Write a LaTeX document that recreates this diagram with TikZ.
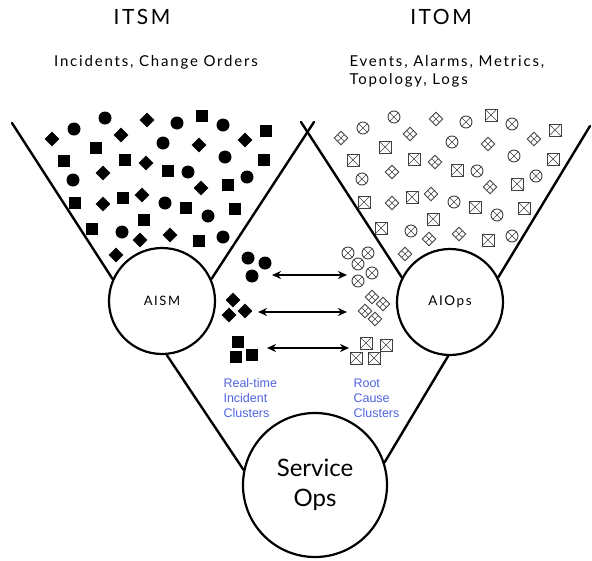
\documentclass[tikz,border=0pt]{standalone}
\usepackage{fontspec}
\setmainfont{Lato}
\newfontfamily\handfont[LetterSpace=12]{Lato}
\newfontfamily\labelfont{Liberation Sans}
\usetikzlibrary{arrows.meta,shapes.geometric}
\definecolor{clusterblue}{RGB}{80,100,225}

% scatter positions (left funnel, right one is shifted)
\newcommand{\dotlist}{74/129,105/118,177/123,223/125,163/143,225/157,73/180,188/172,247/177,165/203,208/216,122/232,223/237}
\newcommand{\gemlist}{52/139,121/135,147/120,199/145,245/140,146/163,103/173,201/188,142/195,103/204,140/240,170/235,116/255}
\newcommand{\boxlist}{202/116,266/131,96/148,64/161,125/160,168/171,264/160,228/185,75/203,123/198,186/208,235/209,144/220,92/229,199/241}

\begin{document}
\begin{tikzpicture}[x=1pt,y=-1pt,
    hub/.style={circle,draw,line width=2.2pt,inner sep=0pt},
    funnel/.style={line width=2.4pt,line cap=round},
    dot/.style={circle,fill,inner sep=0pt,minimum size=13pt},
    gem/.style={diamond,fill,inner sep=0pt,minimum size=15pt},
    box/.style={rectangle,fill,inner sep=0pt,minimum size=12pt},
    crossed/.style={path picture={\draw[line width=0.6pt]
        (path picture bounding box.north west) -- (path picture bounding box.south east)
        (path picture bounding box.north east) -- (path picture bounding box.south west);}},
    xdot/.style={circle,draw=black!75,line width=0.9pt,inner sep=0pt,minimum size=12pt,crossed},
    xgem/.style={diamond,draw=black!75,line width=0.9pt,inner sep=0pt,minimum size=14pt,crossed},
    xbox/.style={rectangle,draw=black!75,line width=0.9pt,inner sep=0pt,minimum size=12pt,crossed},
    link/.style={{Stealth[length=9pt,width=8pt]}-{Stealth[length=9pt,width=8pt]},line width=1.6pt},
    title/.style={font=\handfont\fontsize{21}{24}\selectfont},
    subtitle/.style={font=\handfont\fontsize{15}{18}\selectfont},
    cluster text/.style={anchor=west,align=left,text=clusterblue,
        font=\labelfont\fontsize{12.5}{15}\selectfont}]
  \useasboundingbox (0,0) rectangle (592,560);

  %titles%
  \node[title] (itsm) at (142,17) {ITSM};
  \node[subtitle] (itsm-sub) at (156,62) {Incidents, Change Orders};
  \node[title] (itom) at (441,17) {ITOM};
  \node[subtitle,anchor=west,align=left] (itom-sub) at (346,71)
    {Events, Alarms, Metrics,\\Topology, Logs};

  %hubs%
  \node[hub,minimum size=106pt,font=\handfont\fontsize{13}{15}\selectfont] (aism) at (162,301) {AISM};
  \node[hub,minimum size=106pt,font=\handfont\fontsize{13.5}{15}\selectfont] (aiops) at (450,302) {AIOps};
  \node[hub,minimum size=144pt,align=center,font=\fontsize{24}{30}\selectfont] (sops) at (315,485)
    {Service\\Ops};

  %funnel ends%
  \coordinate (itsm-l) at (12,123);
  \coordinate (itsm-r) at (314,122);
  \coordinate (itom-l) at (301,122);
  \coordinate (itom-r) at (590,126);

  \draw[funnel] (itsm-l) -- (aism.156);
  \draw[funnel] (itsm-r) -- (aism.24);
  \draw[funnel] (itom-l) -- (aiops.153);
  \draw[funnel] (itom-r) -- (aiops.27);
  \draw[funnel] (aism.275) -- (sops.168);
  \draw[funnel] (aiops.268) -- (sops.18);

  %scatter%
  \foreach \x/\y [count=\i] in \dotlist {
    \node[dot] (itsm-dot-\i) at (\x,\y) {};
    \node[xdot] (itom-dot-\i) at (\x+289,\y-1) {};
  }
  \foreach \x/\y [count=\i] in \gemlist {
    \node[gem] (itsm-gem-\i) at (\x,\y) {};
    \node[xgem] (itom-gem-\i) at (\x+289,\y-1) {};
  }
  \foreach \x/\y [count=\i] in \boxlist {
    \node[box] (itsm-box-\i) at (\x,\y) {};
    \node[xbox] (itom-box-\i) at (\x+289,\y-1) {};
  }

  %clusters%
  \node[dot] (rt-dot-1) at (248,258) {};
  \node[dot] (rt-dot-2) at (265,263) {};
  \node[dot] (rt-dot-3) at (252,276) {};
  \node[gem] (rt-gem-1) at (233,300) {};
  \node[gem] (rt-gem-2) at (229,315) {};
  \node[gem] (rt-gem-3) at (245,311) {};
  \node[box] (rt-box-1) at (238,342) {};
  \node[box] (rt-box-2) at (236,357) {};
  \node[box] (rt-box-3) at (252,355) {};

  \node[xdot] (rc-dot-1) at (348,253) {};
  \node[xdot] (rc-dot-2) at (368,253) {};
  \node[xdot] (rc-dot-3) at (358,264) {};
  \node[xdot] (rc-dot-4) at (372,273) {};
  \node[xdot] (rc-dot-5) at (358,281) {};
  \node[xgem] (rc-gem-1) at (372,297) {};
  \node[xgem] (rc-gem-2) at (383,304) {};
  \node[xgem] (rc-gem-3) at (365,311) {};
  \node[xgem] (rc-gem-4) at (375,319) {};
  \node[xbox] (rc-box-1) at (366,343) {};
  \node[xbox] (rc-box-2) at (386,345) {};
  \node[xbox] (rc-box-3) at (356,358) {};
  \node[xbox] (rc-box-4) at (374,358) {};

  \coordinate (dot-l) at (272,275);
  \coordinate (dot-r) at (347,275);
  \coordinate (gem-l) at (258,312);
  \coordinate (gem-r) at (347,312);
  \coordinate (box-l) at (267,348);
  \coordinate (box-r) at (349,348);
  \draw[link] (dot-l) -- (dot-r);
  \draw[link] (gem-l) -- (gem-r);
  \draw[link] (box-l) -- (box-r);

  \node[cluster text] (rt-label) at (220,398) {Real-time\\Incident\\Clusters};
  \node[cluster text] (rc-label) at (350,398) {Root\\Cause\\Clusters};
\end{tikzpicture}
\end{document}
